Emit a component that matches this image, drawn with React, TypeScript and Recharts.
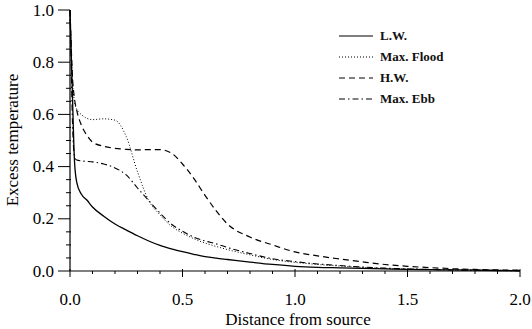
import React from 'react';
import { LineChart, Line, XAxis, YAxis } from 'recharts';

// distance from source (shared x values)
const distance = [
  0, 0.005, 0.01, 0.02, 0.03, 0.05, 0.075, 0.1, 0.15, 0.2, 0.25, 0.3, 0.35, 0.4, 0.45, 0.5, 0.55,
  0.6, 0.65, 0.7, 0.8, 0.9, 1.0, 1.1, 1.2, 1.3, 1.4, 1.5, 1.6, 1.7, 1.8, 1.9, 2.0,
];

const lowWater = [
  1.0, 0.85, 0.7, 0.42, 0.34, 0.295, 0.272, 0.245, 0.21, 0.18, 0.157, 0.135, 0.115, 0.098, 0.085,
  0.074, 0.064, 0.055, 0.049, 0.044, 0.034, 0.025, 0.018, 0.014, 0.012, 0.01, 0.008, 0.006, 0.005,
  0.004, 0.003, 0.002, 0.001,
];

const maxFlood = [
  1.0, 0.86, 0.74, 0.65, 0.62, 0.6, 0.585, 0.58, 0.583, 0.578, 0.515, 0.38, 0.27, 0.215, 0.172,
  0.145, 0.124, 0.107, 0.094, 0.082, 0.062, 0.044, 0.033, 0.025, 0.019, 0.014, 0.01, 0.008, 0.006,
  0.005, 0.004, 0.003, 0.002,
];

const highWater = [
  1.0, 0.87, 0.76, 0.66, 0.615, 0.56, 0.52, 0.494, 0.478, 0.47, 0.466, 0.464, 0.465, 0.465, 0.452,
  0.41, 0.355, 0.29, 0.23, 0.18, 0.13, 0.1, 0.073, 0.058, 0.046, 0.035, 0.025, 0.018, 0.013, 0.009,
  0.006, 0.004, 0.003,
];

const maxEbb = [
  1.0, 0.8, 0.6, 0.44, 0.425, 0.422, 0.42, 0.418, 0.41, 0.395, 0.368, 0.318, 0.27, 0.222, 0.18,
  0.152, 0.13, 0.115, 0.104, 0.09, 0.067, 0.047, 0.036, 0.027, 0.021, 0.015, 0.011, 0.008, 0.006,
  0.004, 0.003, 0.002, 0.001,
];

const xTicks = [
  0, 0.1, 0.2, 0.3, 0.4, 0.5, 0.6, 0.7, 0.8, 0.9, 1, 1.1, 1.2, 1.3, 1.4, 1.5, 1.6, 1.7, 1.8, 1.9, 2,
];
const xMajor = [0, 0.5, 1, 1.5, 2];
const yTicks = [
  0, 0.05, 0.1, 0.15, 0.2, 0.25, 0.3, 0.35, 0.4, 0.45, 0.5, 0.55, 0.6, 0.65, 0.7, 0.75, 0.8, 0.85,
  0.9, 0.95, 1,
];
const yMajor = [0, 0.2, 0.4, 0.6, 0.8, 1];

const series = [
  { key: 'lw', name: 'L.W.', dash: undefined, width: 1.3 },
  { key: 'flood', name: 'Max. Flood', dash: '1 2', width: 1 },
  { key: 'hw', name: 'H.W.', dash: '6 4', width: 1.2 },
  { key: 'ebb', name: 'Max. Ebb', dash: '6 3 1.5 3', width: 1.1 },
];

const data = distance.map((d, i) => ({
  d,
  lw: lowWater[i],
  flood: maxFlood[i],
  hw: highWater[i],
  ebb: maxEbb[i],
}));

const FONT = '"Liberation Serif", "Times New Roman", serif';

const isMajor = (v: number, list: number[]) => list.some((m) => Math.abs(m - v) < 1e-6);

function XTick(props: any) {
  const { x, y, payload } = props;
  const major = isMajor(payload.value, xMajor);
  return (
    <g>
      <line x1={x} x2={x} y1={y - (major ? 2 : 0)} y2={y + (major ? 6 : 3)} stroke="#000" strokeWidth={1} />
      {major && (
        <text x={x} y={y + 34} textAnchor="middle" fontFamily={FONT} fontSize={17} fill="#000">
          {payload.value.toFixed(1)}
        </text>
      )}
    </g>
  );
}

function YTick(props: any) {
  const { x, y, payload } = props;
  const major = isMajor(payload.value, yMajor);
  return (
    <g>
      <line x1={x - (major ? 12 : 4)} x2={x + (major ? 0 : 1)} y1={y} y2={y} stroke="#000" strokeWidth={1} />
      {major && (
        <text x={x - 16} y={y + 5.5} textAnchor="end" fontFamily={FONT} fontSize={17} fill="#000">
          {payload.value.toFixed(1)}
        </text>
      )}
    </g>
  );
}

function LegendBox() {
  return (
    <div
      style={{
        position: 'absolute',
        left: 339,
        top: 25,
        fontFamily: FONT,
        fontSize: 13,
        fontWeight: 'bold',
        color: '#111',
      }}
    >
      {series.map((s) => (
        <div key={s.key} style={{ display: 'flex', alignItems: 'center', height: 21 }}>
          <svg width={36} height={6} style={{ marginRight: 5 }}>
            <line x1={0} x2={34} y1={3} y2={3} stroke="#000" strokeWidth={s.key === 'lw' ? 1.2 : 1} strokeDasharray={s.dash} />
          </svg>
          <span>{s.name}</span>
        </div>
      ))}
    </div>
  );
}

export default function App() {
  return (
    <div style={{ position: 'absolute', left: 0, top: 0, width: 532, height: 329, background: '#fff' }}>
      <LineChart width={532} height={329} data={data} margin={{ top: 10, right: 12, bottom: 0, left: 0 }}>
        <XAxis
          dataKey="d"
          type="number"
          domain={[0, 2]}
          ticks={xTicks}
          interval={0}
          tickSize={0}
          tickMargin={0}
          tickLine={false}
          tick={<XTick />}
          height={58}
          axisLine={{ stroke: '#000', strokeWidth: 1.2 }}
          label={{
            content: () => (
              <text x={298} y={325} textAnchor="middle" fontFamily={FONT} fontSize={17} fill="#000">
                Distance from source
              </text>
            ),
          }}
        />
        <YAxis
          type="number"
          domain={[0, 1]}
          ticks={yTicks}
          interval={0}
          tickSize={0}
          tickMargin={0}
          tickLine={false}
          tick={<YTick />}
          width={70}
          axisLine={{ stroke: '#000', strokeWidth: 1.2 }}
          label={{
            content: () => (
              <text x={18} y={140} transform="rotate(-90 18 140)" textAnchor="middle" fontFamily={FONT} fontSize={17} fill="#000">
                Excess temperature
              </text>
            ),
          }}
        />
        {series.map((s) => (
          <Line
            key={s.key}
            type="monotone"
            dataKey={s.key}
            name={s.name}
            stroke="#000"
            strokeWidth={s.width}
            strokeDasharray={s.dash}
            dot={false}
            isAnimationActive={false}
          />
        ))}
      </LineChart>
      <LegendBox />
    </div>
  );
}
